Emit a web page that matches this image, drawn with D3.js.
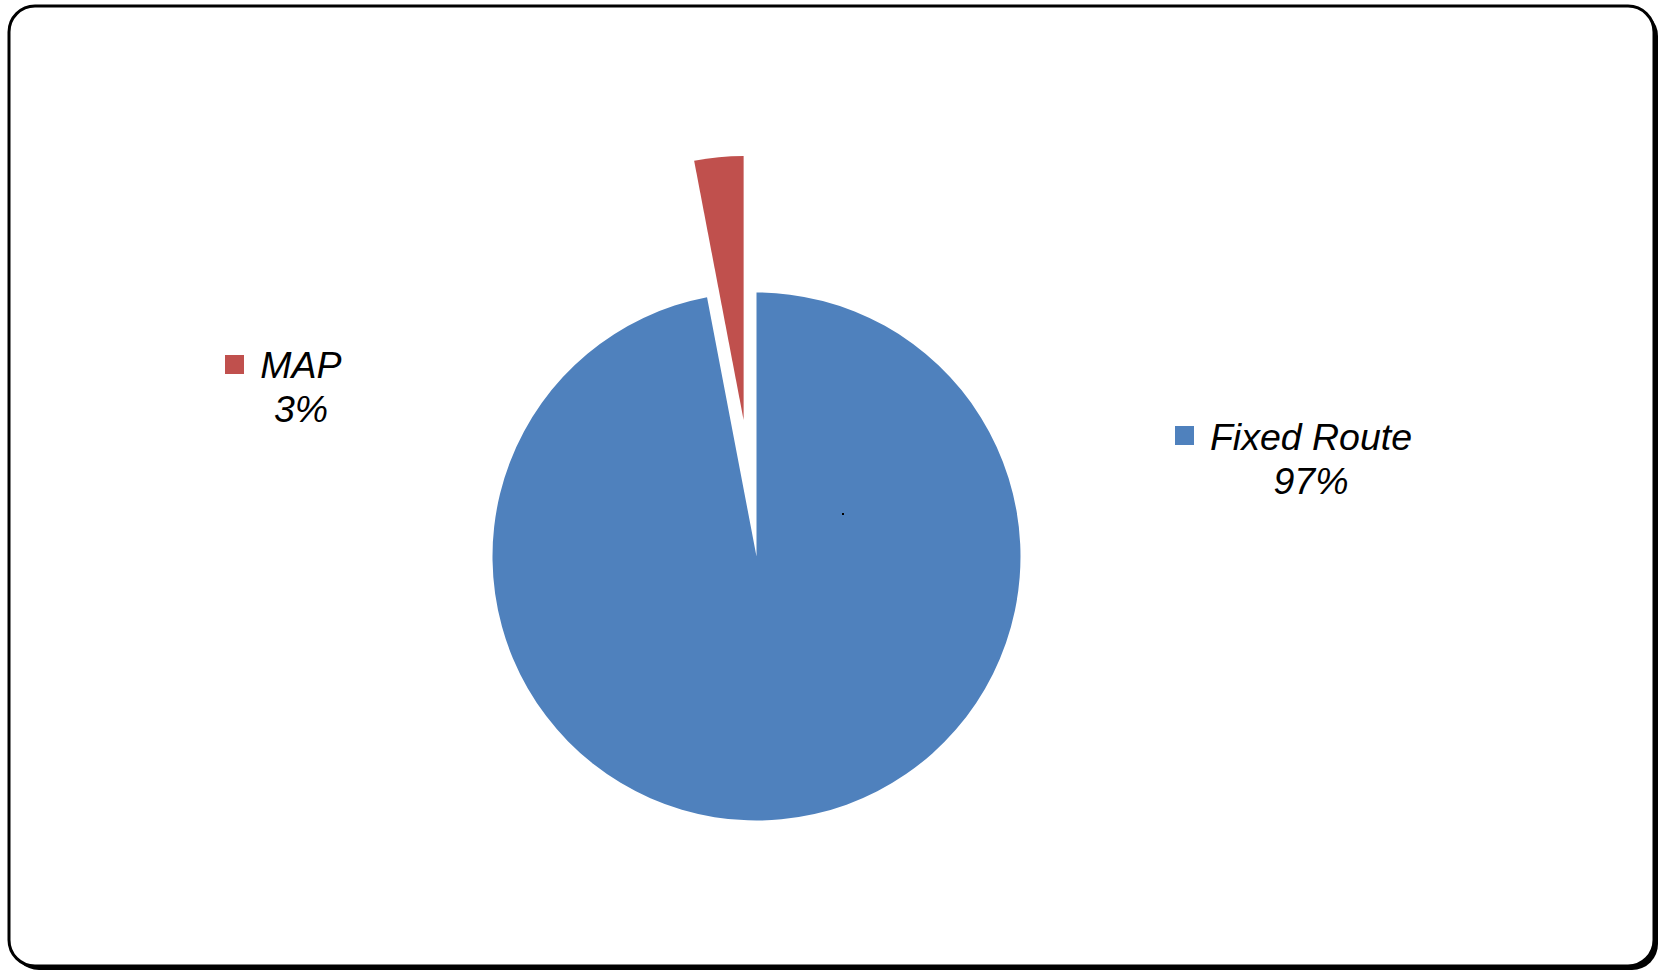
<!DOCTYPE html>
<html>
<head>
    <meta charset="utf-8">
    <title>Fixed Route vs MAP</title>
    <script src="https://cdn.jsdelivr.net/npm/d3@7/dist/d3.min.js"></script>
    <style type="text/css">
        body { margin: 0; background-color: white; }
        svg { display: block; }
        .lbl { font-family: "Liberation Sans", Arial, sans-serif; font-style: italic; font-size: 37.5px; fill: black; }
    </style>
</head>
<body>
<script>
    // data
    var categories = ["Fixed Route", "MAP"];
    var values = [97, 3];
    var pctLabels = ["97%", "3%"];
    var colors = ["#4F81BD", "#C0504D"];

    var w = 1661, h = 973;
    var cx = 756.5, cy = 556.5, r = 264;
    var explode = [0, 137]; // MAP slice pulled out

    var svg = d3.select("body").append("svg")
        .attr("width", w)
        .attr("height", h);

    // frame with shadow
    svg.append("rect")
        .attr("x", 13).attr("y", 10)
        .attr("width", 1645).attr("height", 960)
        .attr("rx", 26).attr("ry", 26)
        .attr("fill", "black");
    svg.append("rect")
        .attr("x", 9).attr("y", 6)
        .attr("width", 1645).attr("height", 960)
        .attr("rx", 26).attr("ry", 26)
        .attr("fill", "white")
        .attr("stroke", "black")
        .attr("stroke-width", 3);

    var pie = d3.pie().sort(null);
    var arcs = pie(values);
    var arc = d3.arc().innerRadius(0).outerRadius(r);

    var g = svg.append("g")
        .attr("transform", "translate(" + cx + "," + cy + ")");

    g.selectAll("path")
        .data(arcs)
        .enter()
        .append("path")
        .attr("d", arc)
        .attr("fill", function(d, i) { return colors[i]; })
        .attr("transform", function(d, i) {
            var mid = (d.startAngle + d.endAngle) / 2;
            return "translate(" + (Math.sin(mid) * explode[i]) + "," + (-Math.cos(mid) * explode[i]) + ")";
        });

    // stray dot
    svg.append("rect")
        .attr("x", 842).attr("y", 513)
        .attr("width", 2).attr("height", 2)
        .attr("fill", "black");

    // data labels with legend keys
    var labelPos = [
        { key: [1175, 426], cx: 1311, y: 450 },
        { key: [225, 355], cx: 301, y: 378 }
    ];

    var lab = svg.selectAll("g.label")
        .data(categories)
        .enter()
        .append("g")
        .attr("class", "label");

    lab.append("rect")
        .attr("x", function(d, i) { return labelPos[i].key[0]; })
        .attr("y", function(d, i) { return labelPos[i].key[1]; })
        .attr("width", 19).attr("height", 19)
        .attr("fill", function(d, i) { return colors[i]; });

    lab.append("text")
        .attr("class", "lbl")
        .attr("text-anchor", "middle")
        .attr("x", function(d, i) { return labelPos[i].cx; })
        .attr("y", function(d, i) { return labelPos[i].y; })
        .text(function(d) { return d; });

    lab.append("text")
        .attr("class", "lbl")
        .attr("text-anchor", "middle")
        .attr("x", function(d, i) { return labelPos[i].cx; })
        .attr("y", function(d, i) { return labelPos[i].y + 44; })
        .text(function(d, i) { return pctLabels[i]; });
</script>
</body>
</html>
